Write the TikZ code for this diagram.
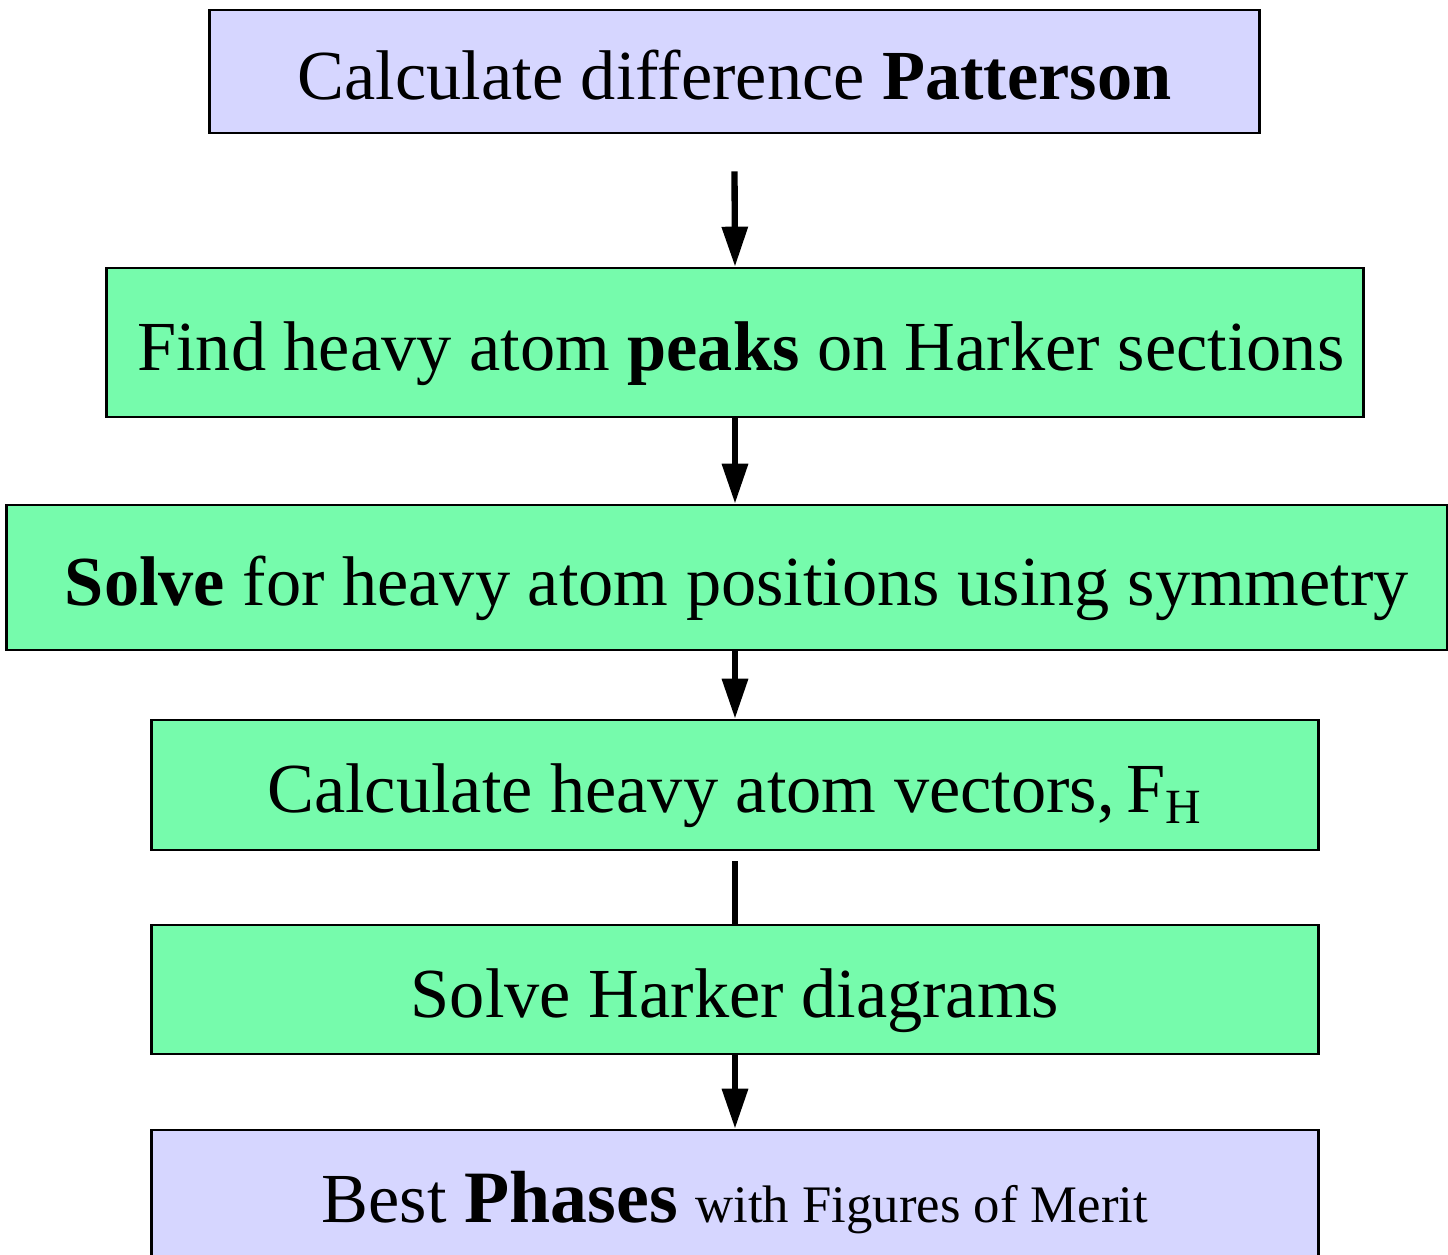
\documentclass[tikz,border=0pt]{standalone}
\usepackage{fontspec}
\setmainfont{Liberation Serif}
\usetikzlibrary{arrows.meta}
\definecolor{phaseblue}{RGB}{214,214,255}
\definecolor{stepgreen}{RGB}{118,251,172}
\begin{document}
\begin{tikzpicture}[x=0.01cm, y=-0.01cm, font=\fontsize{20}{24}\selectfont,
		blockbox/.style={draw=black, line width=0.7pt, inner sep=0pt, text height=0.55cm, text depth=0cm},
		flow/.style={line width=1.8pt, -{Triangle[length=0.4cm, width=0.25cm]}}]
				\useasboundingbox (0,0) rectangle (1448,1255);
				\node[blockbox, fill=phaseblue, minimum width=10.49cm, minimum height=1.23cm] (patt) at (734.5,71.5) {Calculate difference \textbf{Patterson}};
				\node[blockbox, fill=stepgreen, minimum width=12.56cm, minimum height=1.49cm] (peaks) at (735,342.5) {\,Find heavy atom \textbf{peaks} on Harker sections};
				\node[blockbox, fill=stepgreen, minimum width=14.40cm, minimum height=1.45cm] (solve) at (727,577.5) {\hspace{0.2cm}\textbf{Solve} for heavy atom positions using symmetry};
				\node[blockbox, fill=stepgreen, minimum width=11.66cm, minimum height=1.30cm] (vec) at (735,785) {Calculate heavy atom vectors,\,F\textsubscript{H}};
				\node[blockbox, fill=stepgreen, minimum width=11.66cm, minimum height=1.29cm] (harker) at (735,989.5) {Solve Harker diagrams};
				\node[blockbox, fill=phaseblue, minimum width=11.66cm, minimum height=1.44cm, text height=0.4cm] (best) at (735,1202) {Best {\fontsize{21}{25}\selectfont\textbf{Phases}} {\fontsize{15}{18}\selectfont with Figures of Merit}};
				\draw[flow] ([yshift=-0.37cm]patt.south) -- (peaks.north);
				\draw[flow] (peaks.south) -- (peaks.south |- solve.north);
				\draw[flow] (vec.north |- solve.south) -- (vec.north);
				\draw[line width=1.8pt] ([yshift=-0.1cm]vec.south) -- (harker.north);
				\draw[flow] (harker.south) -- (best.north);
			\end{tikzpicture}
\end{document}
